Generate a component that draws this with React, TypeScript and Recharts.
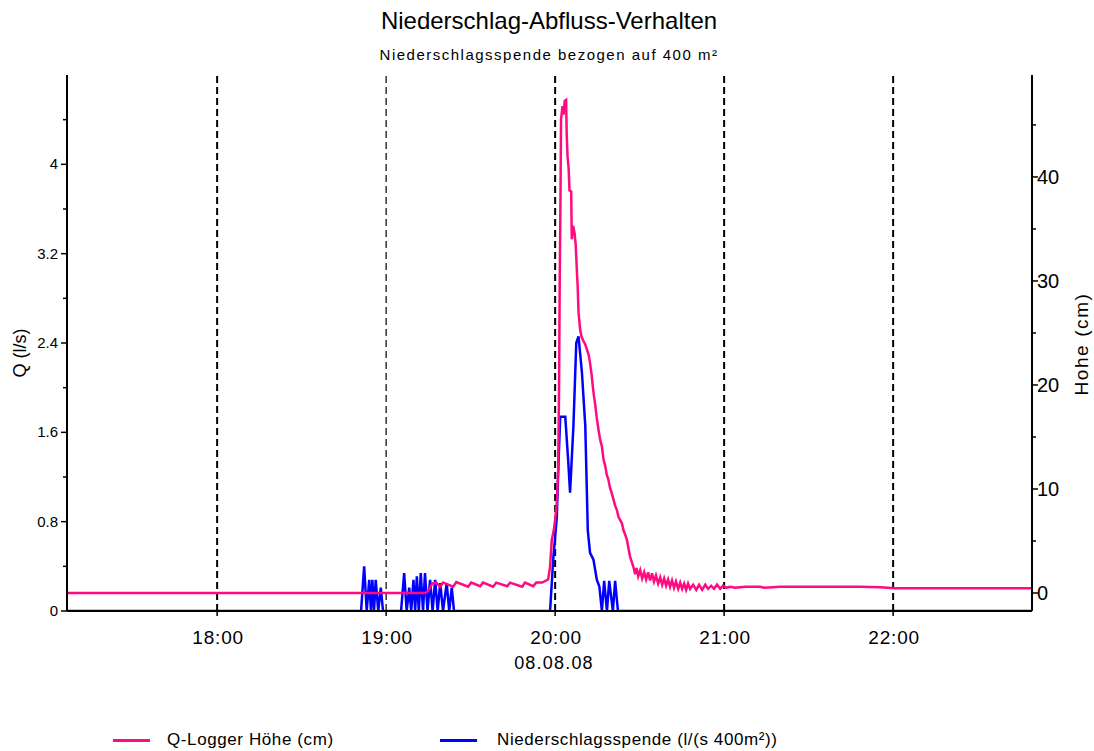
import { LineChart, Line, XAxis, YAxis, ReferenceLine, Legend } from 'recharts'

// Zeit in Minuten seit 0:00 (08.08.08)
const hourTicks = [1080, 1140, 1200, 1260, 1320]
const qMajor = [0, 0.8, 1.6, 2.4, 3.2, 4]
const qMinor = [0.4, 1.2, 2, 2.8, 3.6, 4.4]
const hMajor = [0, 10, 20, 30, 40]
const hMinor = [5, 15, 25, 35, 45]

// Q-Logger Höhe (cm): [Minute, Höhe]
const hoeheReadings: [number, number][] = [
  [1027, 0], [1153.8, 0], [1154.9, 0.2], [1155.6, 0.5], [1156.3, 0.9], [1157.8, 1.0],
  [1159.2, 0.6], [1160.2, 1.0], [1163.8, 0.6], [1164.9, 1.05], [1169.1, 0.6], [1170.2, 1.0],
  [1173.4, 0.65], [1174.4, 1.0], [1178.0, 0.6], [1179.1, 1.0], [1183.0, 0.65], [1184.0, 1.0],
  [1188.3, 0.6], [1189.3, 1.0], [1192.2, 0.65], [1193.3, 1.0], [1195.4, 1.0], [1197.5, 1.3],
  [1198.2, 2.5], [1198.8, 5.1], [1199.5, 6.0], [1200.0, 7.0], [1200.6, 8.7], [1201.1, 12],
  [1201.4, 20], [1201.6, 29], [1201.9, 38], [1202.1, 45.5], [1202.6, 46.8], [1203.0, 46.0],
  [1203.4, 47.3], [1203.9, 47.4], [1204.1, 44.2], [1204.4, 42.0], [1204.8, 40.8], [1205.1, 38.7],
  [1205.7, 38.6], [1205.9, 34.0], [1206.4, 35.3], [1206.9, 34.6], [1207.3, 33.5], [1207.7, 31.1],
  [1208.0, 29.5], [1208.3, 27.0], [1208.9, 25.3], [1209.4, 24.6], [1210.1, 24.2], [1210.7, 23.9],
  [1211.3, 23.4], [1211.9, 22.9], [1212.4, 22.1], [1213.0, 20.9], [1213.4, 19.8], [1213.8, 18.9],
  [1214.2, 18.2], [1214.7, 17.0], [1215.4, 15.7], [1216.0, 14.7], [1216.6, 14.1], [1217.2, 12.8],
  [1217.8, 12.2], [1218.3, 11.4], [1218.9, 10.9], [1219.5, 10.1], [1220.1, 9.6], [1220.8, 8.9],
  [1221.3, 8.4], [1221.9, 8.0], [1222.5, 7.3], [1223.1, 7.0], [1223.7, 6.7], [1224.3, 6.0],
  [1224.9, 5.6], [1225.5, 5.1], [1226.1, 4.2], [1226.6, 3.5], [1227.2, 3.0], [1227.8, 2.5],
  [1228.4, 1.8], [1228.9, 2.4], [1229.5, 1.6], [1230.2, 2.2], [1230.9, 1.4], [1231.6, 2.0],
  [1232.3, 1.3], [1233.0, 2.0], [1233.7, 1.2], [1234.4, 1.9], [1235.1, 1.1], [1235.8, 1.7],
  [1236.6, 0.9], [1237.3, 1.5], [1238.0, 0.8], [1238.7, 1.4], [1239.4, 0.7], [1240.1, 1.3],
  [1240.8, 0.6], [1241.5, 1.2], [1242.2, 0.5], [1242.9, 1.1], [1243.7, 0.4], [1244.4, 1.0],
  [1245.1, 0.4], [1245.8, 0.9], [1246.5, 0.3], [1247.2, 0.9], [1247.9, 0.4], [1249.0, 0.8],
  [1250.1, 0.3], [1251.1, 0.8], [1252.2, 0.3], [1253.3, 0.8], [1254.3, 0.4], [1255.4, 0.7],
  [1256.4, 0.4], [1257.5, 0.8], [1258.6, 0.4], [1259.6, 0.7], [1260.7, 0.5], [1262.1, 0.6],
  [1263.9, 0.5], [1267.5, 0.6], [1272.8, 0.6], [1274.2, 0.5], [1279.9, 0.6], [1287.0, 0.6],
  [1308.3, 0.6], [1315.4, 0.55], [1320.7, 0.45], [1369, 0.45],
]

// Niederschlagsspende (l/(s 400m²)): [Minute, Q]
const spendeReadings: [number, number][] = [
  [1027, 0], [1131.1, 0], [1132.2, 0.4], [1133.1, 0], [1134.0, 0.28], [1134.6, 0],
  [1135.1, 0.28], [1135.7, 0], [1136.3, 0.28], [1137.2, 0], [1138.1, 0.21], [1138.9, 0],
  [1145.3, 0], [1146.4, 0.34], [1147.3, 0], [1148.2, 0.21], [1148.9, 0], [1149.7, 0.28],
  [1150.3, 0], [1150.9, 0.31], [1151.6, 0], [1152.3, 0.34], [1153.1, 0], [1153.8, 0.34],
  [1154.7, 0], [1155.6, 0.28], [1156.5, 0], [1157.4, 0.28], [1158.3, 0], [1159.2, 0.25],
  [1160.2, 0], [1161.5, 0.25], [1162.4, 0], [1163.3, 0.21], [1164.1, 0],
  [1198.2, 0], [1199.4, 0.49], [1200.6, 0.84], [1201.1, 1.26], [1201.8, 1.74], [1203.6, 1.74],
  [1204.7, 1.32], [1205.3, 1.06], [1206.5, 1.66], [1207.5, 2.4], [1208.3, 2.46], [1209.5, 2.14],
  [1210.7, 1.66], [1211.6, 0.72], [1212.4, 0.52], [1213.6, 0.46], [1214.8, 0.28], [1215.7, 0.22],
  [1216.6, 0], [1217.4, 0.27], [1218.4, 0], [1219.2, 0.27], [1220.5, 0], [1221.3, 0.27],
  [1222.3, 0], [1369, 0],
]

const hoeheData = hoeheReadings.map(([t, h]) => ({ t, h }))
const spendeData = spendeReadings.map(([t, q]) => ({ t, q }))

const PINK = '#ff0a80'
const BLUE = '#0000ff'
const FONT = '"Liberation Sans", Arial, sans-serif'
const PLOT_LEFT = 67
const PLOT_RIGHT = 1032
const PLOT_BOTTOM = 611

const fmtTime = (m: number) => {
  const h = Math.floor(m / 60)
  const mm = Math.round(m - h * 60)
  return `${h}:${mm < 10 ? '0' + mm : mm}`
}

const LeftTick = (props: any) => {
  const { y, payload } = props
  const major = qMajor.includes(payload.value)
  return (
    <g>
      <line x1={PLOT_LEFT - (major ? 6 : 4)} x2={PLOT_LEFT} y1={y} y2={y} stroke="#000" strokeWidth={1.5} />
      {major && (
        <text x={PLOT_LEFT - 9} y={y + 5} textAnchor="end" fontSize={15} fontFamily={FONT} fill="#000">
          {String(payload.value)}
        </text>
      )}
    </g>
  )
}

const RightTick = (props: any) => {
  const { y, payload } = props
  const major = hMajor.includes(payload.value)
  return (
    <g>
      <line x1={PLOT_RIGHT} x2={PLOT_RIGHT + (major ? 6 : 4)} y1={y} y2={y} stroke="#000" strokeWidth={1.5} />
      {major && (
        <text x={PLOT_RIGHT + 5} y={y + 7} textAnchor="start" fontSize={20} fontFamily={FONT} fill="#000">
          {String(payload.value)}
        </text>
      )}
    </g>
  )
}

const TimeTick = (props: any) => {
  const { x, payload } = props
  return (
    <g>
      <line x1={x} x2={x} y1={PLOT_BOTTOM} y2={PLOT_BOTTOM + 5} stroke="#000" strokeWidth={1.5} />
      <text x={x + 1} y={PLOT_BOTTOM + 33} textAnchor="middle" fontSize={19} letterSpacing={0.8} fontFamily={FONT} fill="#000">
        {fmtTime(payload.value)}
      </text>
    </g>
  )
}

const LegendBox = () => (
  <div style={{ position: 'relative', width: 1094, height: 24, fontFamily: FONT, fontSize: 17, letterSpacing: 0.6, color: '#000' }}>
    <div style={{ position: 'absolute', left: 113, top: 12, width: 37, height: 3, background: PINK }} />
    <span style={{ position: 'absolute', left: 167, top: 3 }}>Q-Logger Höhe (cm)</span>
    <div style={{ position: 'absolute', left: 440, top: 12, width: 37, height: 3, background: BLUE }} />
    <span style={{ position: 'absolute', left: 497, top: 3 }}>Niederschlagsspende (l/(s 400m²))</span>
  </div>
)

export default function App() {
  return (
    <div style={{ position: 'absolute', left: 0, top: 0, width: 1094, height: 751, background: '#fff' }}>
      <div style={{ position: 'absolute', top: 7, left: 0, width: 1098, textAlign: 'center', fontFamily: FONT, fontSize: 24 }}>
        Niederschlag-Abfluss-Verhalten
      </div>
      <div style={{ position: 'absolute', top: 46, left: 0, width: 1098, textAlign: 'center', fontFamily: FONT, fontSize: 15, letterSpacing: 1.5 }}>
        Niederschlagsspende bezogen auf 400 m²
      </div>
      <LineChart width={1094} height={751} margin={{ top: 75, right: 2, bottom: 100, left: 7 }}>
        <XAxis
          dataKey="t"
          type="number"
          domain={[1026.7, 1369.3]}
          allowDataOverflow
          ticks={hourTicks}
          height={40}
          axisLine={{ stroke: '#000', strokeWidth: 2 }}
          tickLine={false}
          tick={TimeTick}
          label={{
            content: () => (
              <text x={554} y={669} textAnchor="middle" fontSize={18} letterSpacing={1.2} fontFamily={FONT} fill="#000">
                08.08.08
              </text>
            ),
          }}
        />
        <YAxis
          yAxisId="q"
          orientation="left"
          width={60}
          type="number"
          domain={[0, 4.8]}
          allowDataOverflow
          ticks={[...qMajor, ...qMinor].sort((a, b) => a - b)}
          axisLine={{ stroke: '#000', strokeWidth: 2 }}
          tickLine={false}
          tick={LeftTick}
          label={{
            content: () => (
              <text x={26} y={353} transform="rotate(-90 26 353)" textAnchor="middle" fontSize={18} fontFamily={FONT} fill="#000">
                Q (l/s)
              </text>
            ),
          }}
        />
        <YAxis
          yAxisId="h"
          orientation="right"
          width={60}
          type="number"
          domain={[-1.73, 49.8]}
          allowDataOverflow
          ticks={[...hMajor, ...hMinor].sort((a, b) => a - b)}
          axisLine={{ stroke: '#000', strokeWidth: 2 }}
          tickLine={false}
          tick={RightTick}
          label={{
            content: () => (
              <text x={1088} y={344} transform="rotate(-90 1088 344)" textAnchor="middle" fontSize={19} letterSpacing={1.6} fontFamily={FONT} fill="#000">
                Hohe (cm)
              </text>
            ),
          }}
        />
        {hourTicks.map((t) => (
          <ReferenceLine
            key={t}
            x={t}
            yAxisId="q"
            stroke="#000"
            strokeWidth={t === 1140 ? 1.2 : 2}
            strokeDasharray="7 4"
          />
        ))}
        <Line
          data={spendeData}
          dataKey="q"
          yAxisId="q"
          type="linear"
          stroke={BLUE}
          strokeWidth={2.5}
          dot={false}
          isAnimationActive={false}
        />
        <Line
          data={hoeheData}
          dataKey="h"
          yAxisId="h"
          type="linear"
          stroke={PINK}
          strokeWidth={2.5}
          dot={false}
          isAnimationActive={false}
        />
        <Legend
          layout="horizontal"
          verticalAlign="middle"
          align="center"
          wrapperStyle={{ top: 727, left: 0, width: 1094, height: 24 }}
          content={() => <LegendBox />}
        />
      </LineChart>
    </div>
  )
}
